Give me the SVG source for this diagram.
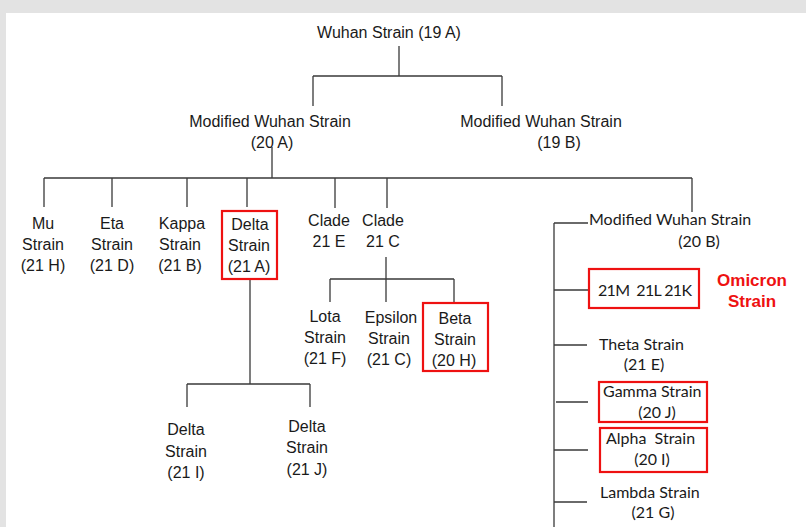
<svg xmlns="http://www.w3.org/2000/svg" width="806" height="527" viewBox="0 0 806 527">
<style>
.t{font-family:"Liberation Sans",Arial,sans-serif;font-size:16px;fill:#1a1a1a;text-anchor:middle}
.c{font-family:Lato,"Open Sans",sans-serif;font-size:16px;fill:#1a1a1a}
.m{text-anchor:middle}
.ln{stroke:#3a3a3a;stroke-width:1.3;fill:none}
.box{stroke:#ee1111;stroke-width:2.2;fill:none}
.om{font-family:"Liberation Sans",Arial,sans-serif;font-size:17px;font-weight:bold;fill:#ee1111;text-anchor:middle}
</style>
<rect x="0" y="0" width="806" height="527" fill="#e3e3e3"/>
<rect x="6" y="13" width="800" height="514" fill="#ffffff"/>
<g id="connectors">
<path class="ln" d="M399 46V76M313 76H502M313 76V106M502 76V106"/>
<path class="ln" d="M272 147V178M44 178H692M44 178V207M112 178V207M187 178V207M247 178V207M335 178V208M387 178V208M692 178V212"/>
<path class="ln" d="M250 279V384M187 384H310M187 384V407M310 384V407"/>
<path class="ln" d="M386 257V279M330 279H454M330 279V302M386 279V302M454 279V302"/>
<path class="ln" d="M554 223V527M554 223H588M554 290H588M554 345H587M556 402H588M554 450H588M554 502H587"/>
</g>
<g id="n-wuhan"><text class="t" x="389" y="38">Wuhan Strain (19 A)</text></g>
<g id="n-20a"><text class="t" x="270" y="127">Modified Wuhan Strain</text><text class="t" x="272" y="148">(20 A)</text></g>
<g id="n-19b"><text class="t" x="541" y="127">Modified Wuhan Strain</text><text class="t" x="559" y="148">(19 B)</text></g>
<g id="n-mu"><text class="t" x="43" y="229">Mu</text><text class="t" x="43" y="250">Strain</text><text class="t" x="43" y="271">(21 H)</text></g>
<g id="n-eta"><text class="t" x="112" y="229">Eta</text><text class="t" x="112" y="250">Strain</text><text class="t" x="112" y="271">(21 D)</text></g>
<g id="n-kappa"><text class="t" x="182" y="229">Kappa</text><text class="t" x="180" y="250">Strain</text><text class="t" x="180" y="271">(21 B)</text></g>
<g id="n-delta"><rect class="box" x="222" y="211" width="55" height="68"/><text class="t" x="250" y="230">Delta</text><text class="t" x="249" y="251">Strain</text><text class="t" x="249" y="272">(21 A)</text></g>
<g id="n-21e"><text class="t" x="329" y="226">Clade</text><text class="t" x="329" y="247">21 E</text></g>
<g id="n-21c"><text class="t" x="383" y="226">Clade</text><text class="t" x="383" y="247">21 C</text></g>
<g id="n-lota"><text class="t" x="325" y="322">Lota</text><text class="t" x="325" y="343">Strain</text><text class="t" x="325" y="364">(21 F)</text></g>
<g id="n-epsilon"><text class="t" x="391" y="323">Epsilon</text><text class="t" x="389" y="344">Strain</text><text class="t" x="389" y="365">(21 C)</text></g>
<g id="n-beta"><rect class="box" x="423" y="303" width="65" height="68"/><text class="t" x="455" y="324">Beta</text><text class="t" x="455" y="345">Strain</text><text class="t" x="454" y="366">(20 H)</text></g>
<g id="n-21i"><text class="t" x="186" y="435">Delta</text><text class="t" x="186" y="457">Strain</text><text class="t" x="186" y="478">(21 I)</text></g>
<g id="n-21j"><text class="t" x="307" y="432">Delta</text><text class="t" x="307" y="453">Strain</text><text class="t" x="307" y="475">(21 J)</text></g>
<g id="n-20b"><text class="c" x="589" y="225">Modified Wuhan Strain</text><text class="c m" x="699" y="247">(20 B)</text></g>
<g id="n-omicron"><rect class="box" x="589" y="269" width="110" height="39"/><text class="c" x="598" y="296" xml:space="preserve" textLength="94" lengthAdjust="spacing">21M  21L 21K</text><text class="om" x="752" y="286">Omicron</text><text class="om" x="752" y="307">Strain</text></g>
<g id="n-theta"><text class="c" x="599" y="350">Theta Strain</text><text class="c m" x="644" y="370">(21 E)</text></g>
<g id="n-gamma"><rect class="box" x="599" y="382" width="108" height="40"/><text class="c" x="603" y="397">Gamma Strain</text><text class="c m" x="657" y="418">(20 J)</text></g>
<g id="n-alpha"><rect class="box" x="600" y="428" width="107" height="44"/><text class="c" x="606" y="444" xml:space="preserve">Alpha  Strain</text><text class="c m" x="652" y="465">(20 I)</text></g>
<g id="n-lambda"><text class="c" x="600" y="498">Lambda Strain</text><text class="c m" x="653" y="518">(21 G)</text></g>
</svg>
